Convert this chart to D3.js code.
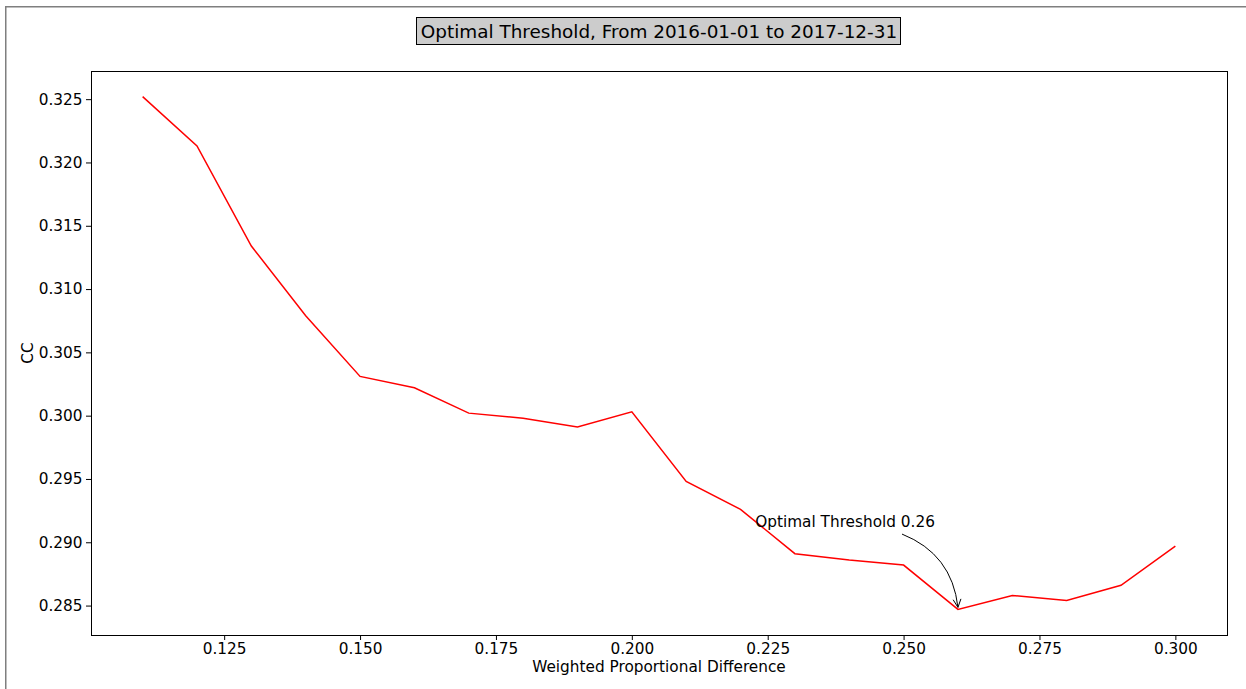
<!DOCTYPE html>
<html>
<head>
<meta charset="utf-8">
<script src="https://cdn.jsdelivr.net/npm/d3@7"></script>
<style>
body { margin: 0; background: #fff; }
svg text { font-family: "DejaVu Sans", sans-serif; fill: #000; }
</style>
</head>
<body>
<div id="chart"></div>
<script>
// data
var thresholds = [0.11, 0.12, 0.13, 0.14, 0.15, 0.16, 0.17, 0.18, 0.19, 0.20,
                  0.21, 0.22, 0.23, 0.24, 0.25, 0.26, 0.27, 0.28, 0.29, 0.30];
var ccValues = [0.3252, 0.3213, 0.3134, 0.3079, 0.3031, 0.3022, 0.3002, 0.2998, 0.2991, 0.3003,
                0.2948, 0.2926, 0.2891, 0.2886, 0.2882, 0.2847, 0.2858, 0.2854, 0.2866, 0.2897];
var xTicks = [0.125, 0.150, 0.175, 0.200, 0.225, 0.250, 0.275, 0.300];
var yTicks = [0.285, 0.290, 0.295, 0.300, 0.305, 0.310, 0.315, 0.320, 0.325];
var titleText = "Optimal Threshold, From 2016-01-01 to 2017-12-31";
var xLabel = "Weighted Proportional Difference";
var yLabel = "CC";
var optimalThreshold = 0.26;
var annotText = "Optimal Threshold 0.26";

var W = 1246, H = 689;
var plot = {left: 91, top: 71, right: 1227, bottom: 635};
var fs = 15.3;

var svg = d3.select("#chart").append("svg")
  .attr("width", W)
  .attr("height", H);

// outer figure frame (cut off by the window on the right and bottom)
svg.append("rect")
  .attr("x", 5.75).attr("y", 6.75)
  .attr("width", 1400).attr("height", 800)
  .attr("fill", "none")
  .attr("stroke", "#7f7f7f")
  .attr("stroke-width", 1.5);

// matplotlib-like 5% margins
function padded(ext) {
  var s = ext[1] - ext[0];
  return [ext[0] - s * 0.05, ext[1] + s * 0.05];
}

var x = d3.scaleLinear()
  .domain(padded(d3.extent(thresholds)))
  .range([plot.left, plot.right]);
var y = d3.scaleLinear()
  .domain(padded(d3.extent(ccValues)))
  .range([plot.bottom, plot.top]);

var data = thresholds.map((t, i) => ({t: t, v: ccValues[i]}));

// axes
var xAxis = svg.append("g")
  .attr("transform", `translate(0,${plot.bottom})`)
  .call(d3.axisBottom(x).tickValues(xTicks).tickFormat(d3.format(".3f"))
    .tickSize(5).tickSizeOuter(0).tickPadding(3));
var yAxis = svg.append("g")
  .attr("transform", `translate(${plot.left},0)`)
  .call(d3.axisLeft(y).tickValues(yTicks).tickFormat(d3.format(".3f"))
    .tickSize(5).tickSizeOuter(0).tickPadding(3.5));
[xAxis, yAxis].forEach(a => {
  a.select(".domain").remove();
  a.selectAll("line").attr("stroke", "#000");
  a.selectAll("text").attr("font-size", fs).attr("font-family", "DejaVu Sans");
});

// the line
svg.append("path")
  .datum(data)
  .attr("fill", "none")
  .attr("stroke", "#ff0000")
  .attr("stroke-width", 1.5)
  .attr("d", d3.line().x(d => x(d.t)).y(d => y(d.v)));

// plot frame
svg.append("rect")
  .attr("x", plot.left + 0.5).attr("y", plot.top + 0.5)
  .attr("width", plot.right - plot.left).attr("height", plot.bottom - plot.top)
  .attr("fill", "none")
  .attr("stroke", "#000")
  .attr("stroke-width", 1);

// annotation with curved arrow
var opt = data.find(d => d.t === optimalThreshold);
var tip = [x(opt.t), y(opt.v) - 2];
var tx = x(0.2227), ty = y(0.2912);
svg.append("text")
  .attr("x", tx).attr("y", ty)
  .attr("font-size", fs)
  .text(annotText);
var start = [902, ty + 7];
var mid = [(start[0] + tip[0]) / 2, (start[1] + tip[1]) / 2];
var dx = tip[0] - start[0], dy = tip[1] - start[1];
var rad = 0.3;
var ctrl = [mid[0] + rad * dy, mid[1] - rad * dx];
svg.append("path")
  .attr("d", `M${start[0]},${start[1]} Q${ctrl[0]},${ctrl[1]} ${tip[0]},${tip[1]}`)
  .attr("fill", "none")
  .attr("stroke", "#000")
  .attr("stroke-width", 1);
// open arrow head along the tangent at the tip
var ang = Math.atan2(tip[1] - ctrl[1], tip[0] - ctrl[0]);
var hl = 9, ha = 0.45;
svg.append("path")
  .attr("d", `M${tip[0] - hl * Math.cos(ang - ha)},${tip[1] - hl * Math.sin(ang - ha)} L${tip[0]},${tip[1]} L${tip[0] - hl * Math.cos(ang + ha)},${tip[1] - hl * Math.sin(ang + ha)}`)
  .attr("fill", "none")
  .attr("stroke", "#000")
  .attr("stroke-width", 1);

// axis labels
svg.append("text")
  .attr("x", (plot.left + plot.right) / 2).attr("y", 672)
  .attr("text-anchor", "middle")
  .attr("font-size", fs)
  .text(xLabel);
svg.append("text")
  .attr("transform", `translate(33,${(plot.top + plot.bottom) / 2}) rotate(-90)`)
  .attr("text-anchor", "middle")
  .attr("font-size", fs)
  .text(yLabel);

// boxed title
var titleBox = svg.append("rect");
var title = svg.append("text")
  .attr("x", (plot.left + plot.right) / 2).attr("y", 37.5)
  .attr("text-anchor", "middle")
  .attr("font-size", 18.4)
  .text(titleText);
var bb = title.node().getBBox();
titleBox
  .attr("x", Math.round(bb.x) - 4.5).attr("y", 17.5)
  .attr("width", Math.round(bb.width) + 8).attr("height", 27)
  .attr("fill", "#cccccc")
  .attr("stroke", "#000")
  .attr("stroke-width", 1);
</script>
</body>
</html>
